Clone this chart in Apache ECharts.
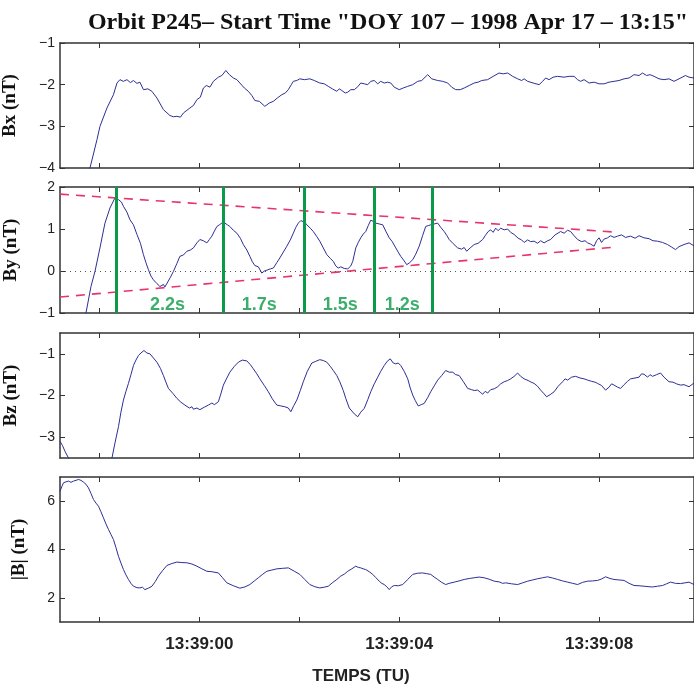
<!DOCTYPE html>
<html><head><meta charset="utf-8">
<script src="https://cdn.jsdelivr.net/npm/echarts@6/dist/echarts.min.js"></script>
<style>html,body{margin:0;padding:0;background:#fff}#c{width:694px;height:684px}</style>
</head><body><div id="c"></div>
<script>
// time in seconds relative to 13:39:00
const tMin = -2.79, tMax = 9.9;
const xTicks = [-2, 0, 2, 4, 6, 8];
const xLabelTicks = [0, 4, 8];

const bxData = [[-2.3,-4.6],[-2.19,-4.0],[-2.05,-3.32],[-1.99,-3.0],[-1.85,-2.56],[-1.72,-2.24],[-1.65,-1.96],[-1.59,-1.88],[-1.52,-1.92],[-1.45,-1.88],[-1.38,-1.95],[-1.32,-1.9],[-1.25,-1.97],[-1.19,-1.94],[-1.12,-2.12],[-1.03,-2.1],[-0.95,-2.16],[-0.85,-2.32],[-0.72,-2.6],[-0.59,-2.74],[-0.52,-2.77],[-0.45,-2.76],[-0.38,-2.78],[-0.32,-2.68],[-0.19,-2.56],[-0.12,-2.5],[-0.05,-2.36],[0.02,-2.3],[0.08,-2.08],[0.14,-2.02],[0.21,-2.06],[0.28,-1.92],[0.38,-1.82],[0.45,-1.78],[0.53,-1.66],[0.6,-1.76],[0.68,-1.84],[0.75,-1.88],[0.81,-1.96],[0.9,-2.08],[0.98,-2.16],[1.05,-2.26],[1.11,-2.38],[1.2,-2.4],[1.31,-2.52],[1.4,-2.44],[1.48,-2.4],[1.56,-2.32],[1.65,-2.24],[1.72,-2.2],[1.78,-2.12],[1.84,-2.0],[1.88,-1.92],[1.95,-1.9],[2.01,-1.86],[2.1,-1.88],[2.21,-1.86],[2.3,-1.9],[2.41,-1.96],[2.5,-1.98],[2.58,-2.04],[2.66,-2.1],[2.75,-2.16],[2.8,-2.1],[2.85,-2.14],[2.92,-2.2],[2.97,-2.18],[3.03,-2.12],[3.1,-2.12],[3.17,-2.05],[3.23,-1.96],[3.3,-1.98],[3.37,-2.0],[3.43,-1.92],[3.5,-1.9],[3.57,-1.98],[3.63,-1.92],[3.7,-1.96],[3.77,-1.94],[3.83,-1.96],[3.9,-2.06],[4.0,-2.12],[4.08,-2.08],[4.17,-2.04],[4.27,-2.0],[4.37,-1.92],[4.45,-1.9],[4.57,-1.76],[4.65,-1.86],[4.77,-1.9],[4.87,-1.92],[4.97,-1.96],[5.05,-2.06],[5.13,-2.12],[5.22,-2.12],[5.3,-2.08],[5.4,-2.02],[5.5,-1.96],[5.58,-1.94],[5.65,-1.9],[5.77,-1.88],[5.88,-1.8],[6.0,-1.72],[6.08,-1.74],[6.17,-1.72],[6.27,-1.8],[6.37,-1.86],[6.45,-1.9],[6.5,-1.86],[6.57,-1.92],[6.68,-1.96],[6.8,-2.0],[6.87,-1.92],[6.93,-1.84],[7.0,-1.88],[7.08,-1.82],[7.17,-1.8],[7.3,-1.82],[7.4,-1.8],[7.5,-1.8],[7.57,-1.88],[7.63,-1.92],[7.7,-1.88],[7.8,-1.96],[7.9,-1.94],[8.0,-1.98],[8.1,-1.98],[8.2,-1.94],[8.3,-1.92],[8.4,-1.9],[8.5,-1.86],[8.6,-1.84],[8.7,-1.76],[8.8,-1.78],[8.87,-1.72],[8.95,-1.78],[9.02,-1.76],[9.1,-1.8],[9.2,-1.86],[9.3,-1.88],[9.4,-1.86],[9.5,-1.92],[9.6,-1.86],[9.73,-1.78],[9.8,-1.82],[9.9,-1.84]];

const byData = [[-2.35,-1.6],[-2.27,-1.0],[-2.17,-0.37],[-2.09,-0.01],[-1.99,0.55],[-1.89,1.14],[-1.79,1.5],[-1.69,1.74],[-1.62,1.7],[-1.56,1.64],[-1.52,1.54],[-1.45,1.4],[-1.39,1.22],[-1.32,1.1],[-1.25,0.87],[-1.18,0.66],[-1.12,0.39],[-1.07,0.2],[-1.02,0.03],[-0.97,-0.12],[-0.92,-0.21],[-0.85,-0.3],[-0.79,-0.37],[-0.72,-0.32],[-0.69,-0.38],[-0.65,-0.35],[-0.58,-0.15],[-0.52,-0.01],[-0.45,0.18],[-0.39,0.35],[-0.32,0.38],[-0.25,0.47],[-0.18,0.5],[-0.12,0.55],[-0.05,0.67],[0.01,0.75],[0.08,0.72],[0.15,0.67],[0.2,0.75],[0.25,0.83],[0.3,0.95],[0.35,1.06],[0.4,1.1],[0.45,1.14],[0.51,1.14],[0.56,1.1],[0.61,1.06],[0.68,0.97],[0.75,0.9],[0.82,0.78],[0.88,0.63],[0.95,0.5],[1.01,0.35],[1.06,0.22],[1.11,0.13],[1.18,0.1],[1.25,-0.05],[1.3,0.0],[1.35,0.02],[1.42,0.05],[1.48,0.07],[1.55,0.2],[1.61,0.31],[1.68,0.45],[1.75,0.59],[1.82,0.74],[1.88,0.9],[1.93,1.04],[1.98,1.14],[2.03,1.2],[2.07,1.24],[2.11,1.16],[2.15,1.1],[2.22,1.02],[2.28,0.94],[2.35,0.82],[2.41,0.71],[2.48,0.55],[2.55,0.39],[2.62,0.3],[2.68,0.23],[2.73,0.12],[2.78,0.07],[2.83,0.1],[2.9,0.06],[2.97,0.05],[3.03,0.12],[3.07,0.23],[3.13,0.55],[3.18,0.68],[3.23,0.79],[3.28,0.88],[3.33,0.94],[3.38,1.08],[3.43,1.21],[3.48,1.18],[3.53,1.14],[3.6,1.12],[3.67,1.1],[3.73,0.95],[3.8,0.79],[3.86,0.7],[3.93,0.55],[3.98,0.45],[4.03,0.35],[4.1,0.24],[4.15,0.15],[4.21,0.2],[4.27,0.27],[4.33,0.4],[4.4,0.59],[4.47,0.85],[4.53,1.06],[4.58,1.08],[4.63,1.1],[4.7,1.12],[4.77,1.14],[4.83,1.04],[4.9,0.94],[4.95,0.85],[5.0,0.75],[5.08,0.65],[5.17,0.55],[5.25,0.52],[5.3,0.56],[5.35,0.47],[5.42,0.55],[5.5,0.63],[5.58,0.66],[5.67,0.75],[5.72,0.84],[5.78,0.94],[5.83,0.98],[5.88,0.92],[5.93,1.02],[5.98,0.96],[6.03,1.02],[6.1,0.98],[6.17,1.0],[6.23,0.92],[6.3,0.87],[6.38,0.78],[6.45,0.74],[6.5,0.68],[6.57,0.74],[6.63,0.7],[6.7,0.71],[6.77,0.66],[6.83,0.72],[6.9,0.67],[6.97,0.72],[7.03,0.75],[7.12,0.86],[7.23,0.94],[7.3,0.9],[7.37,0.97],[7.43,0.94],[7.5,0.84],[7.57,0.75],[7.65,0.7],[7.72,0.72],[7.77,0.67],[7.83,0.64],[7.9,0.59],[7.95,0.72],[8.0,0.79],[8.05,0.68],[8.1,0.76],[8.17,0.79],[8.23,0.84],[8.3,0.8],[8.37,0.83],[8.45,0.86],[8.53,0.8],[8.63,0.83],[8.72,0.78],[8.8,0.84],[8.9,0.79],[9.0,0.77],[9.08,0.72],[9.17,0.71],[9.27,0.68],[9.37,0.63],[9.45,0.57],[9.53,0.51],[9.6,0.58],[9.7,0.63],[9.8,0.67],[9.9,0.6]];

const bzData = [[-2.79,-3.1],[-2.74,-3.2],[-2.69,-3.34],[-2.62,-3.5],[-2.55,-3.75],[-1.8,-3.8],[-1.75,-3.5],[-1.69,-3.14],[-1.62,-2.75],[-1.57,-2.4],[-1.52,-2.11],[-1.47,-1.9],[-1.42,-1.71],[-1.37,-1.5],[-1.32,-1.28],[-1.27,-1.15],[-1.22,-1.04],[-1.17,-0.98],[-1.11,-0.92],[-1.05,-0.98],[-0.99,-1.0],[-0.92,-1.1],[-0.85,-1.2],[-0.78,-1.35],[-0.72,-1.52],[-0.67,-1.68],[-0.62,-1.83],[-0.53,-1.95],[-0.45,-2.07],[-0.37,-2.16],[-0.29,-2.23],[-0.2,-2.3],[-0.15,-2.27],[-0.12,-2.33],[-0.05,-2.3],[0.01,-2.34],[0.1,-2.28],[0.18,-2.23],[0.25,-2.18],[0.3,-2.22],[0.38,-2.15],[0.43,-1.96],[0.48,-1.75],[0.55,-1.58],[0.61,-1.44],[0.7,-1.3],[0.78,-1.2],[0.86,-1.15],[0.95,-1.17],[1.02,-1.26],[1.08,-1.36],[1.15,-1.48],[1.21,-1.6],[1.3,-1.76],[1.38,-1.91],[1.46,-2.08],[1.55,-2.23],[1.63,-2.25],[1.71,-2.27],[1.78,-2.3],[1.83,-2.39],[1.89,-2.24],[1.95,-2.11],[2.02,-1.88],[2.08,-1.67],[2.16,-1.42],[2.25,-1.22],[2.33,-1.18],[2.41,-1.14],[2.48,-1.16],[2.55,-1.2],[2.62,-1.3],[2.68,-1.4],[2.75,-1.52],[2.81,-1.67],[2.88,-1.88],[2.93,-2.07],[3.0,-2.3],[3.03,-2.33],[3.1,-2.44],[3.17,-2.51],[3.23,-2.4],[3.3,-2.31],[3.37,-2.1],[3.43,-1.91],[3.5,-1.72],[3.57,-1.56],[3.63,-1.42],[3.7,-1.28],[3.76,-1.18],[3.82,-1.12],[3.88,-1.22],[3.93,-1.24],[3.98,-1.22],[4.03,-1.28],[4.1,-1.42],[4.17,-1.6],[4.22,-1.82],[4.27,-1.99],[4.32,-2.12],[4.38,-2.25],[4.44,-2.22],[4.5,-2.19],[4.57,-2.05],[4.63,-1.91],[4.7,-1.77],[4.77,-1.63],[4.85,-1.52],[4.93,-1.4],[5.0,-1.44],[5.07,-1.44],[5.13,-1.5],[5.2,-1.52],[5.28,-1.66],[5.37,-1.83],[5.45,-1.86],[5.5,-1.88],[5.57,-1.87],[5.62,-1.92],[5.67,-1.97],[5.72,-1.9],[5.77,-1.94],[5.83,-1.86],[5.9,-1.84],[5.97,-1.79],[6.03,-1.72],[6.1,-1.67],[6.17,-1.64],[6.23,-1.6],[6.3,-1.54],[6.37,-1.46],[6.43,-1.54],[6.5,-1.6],[6.58,-1.64],[6.64,-1.68],[6.7,-1.71],[6.77,-1.78],[6.83,-1.87],[6.9,-1.96],[6.95,-2.03],[7.02,-1.98],[7.1,-1.91],[7.18,-1.78],[7.27,-1.67],[7.32,-1.6],[7.37,-1.63],[7.45,-1.56],[7.53,-1.54],[7.62,-1.58],[7.7,-1.6],[7.77,-1.63],[7.85,-1.66],[7.92,-1.68],[7.97,-1.71],[8.05,-1.76],[8.13,-1.87],[8.2,-1.8],[8.25,-1.72],[8.3,-1.75],[8.37,-1.8],[8.43,-1.83],[8.5,-1.74],[8.57,-1.66],[8.63,-1.6],[8.72,-1.58],[8.8,-1.56],[8.85,-1.48],[8.9,-1.49],[8.97,-1.56],[9.02,-1.5],[9.07,-1.54],[9.15,-1.5],[9.23,-1.46],[9.3,-1.56],[9.4,-1.67],[9.48,-1.68],[9.55,-1.72],[9.63,-1.75],[9.7,-1.74],[9.8,-1.79],[9.9,-1.7]];

const bmagData = [[-2.79,6.41],[-2.75,6.62],[-2.72,6.76],[-2.67,6.8],[-2.62,6.83],[-2.57,6.78],[-2.52,6.83],[-2.47,6.86],[-2.42,6.9],[-2.37,6.86],[-2.32,6.79],[-2.27,6.7],[-2.22,6.55],[-2.17,6.32],[-2.12,6.07],[-2.07,5.92],[-2.02,5.79],[-1.97,5.56],[-1.92,5.31],[-1.87,5.06],[-1.82,4.83],[-1.77,4.62],[-1.72,4.41],[-1.67,4.08],[-1.62,3.72],[-1.57,3.44],[-1.52,3.17],[-1.47,2.95],[-1.42,2.76],[-1.37,2.6],[-1.32,2.48],[-1.25,2.42],[-1.19,2.41],[-1.14,2.44],[-1.09,2.34],[-1.02,2.4],[-0.95,2.48],[-0.88,2.68],[-0.82,2.9],[-0.74,3.12],[-0.65,3.34],[-0.55,3.42],[-0.45,3.48],[-0.35,3.46],[-0.25,3.45],[-0.15,3.4],[-0.05,3.31],[0.05,3.2],[0.15,3.1],[0.25,3.08],[0.38,3.03],[0.46,2.84],[0.55,2.62],[0.68,2.5],[0.81,2.4],[0.91,2.45],[1.01,2.55],[1.1,2.7],[1.18,2.83],[1.27,2.98],[1.35,3.1],[1.45,3.15],[1.55,3.2],[1.66,3.22],[1.78,3.24],[1.9,3.1],[2.01,2.97],[2.11,2.76],[2.21,2.55],[2.31,2.46],[2.41,2.41],[2.5,2.44],[2.58,2.48],[2.66,2.62],[2.75,2.76],[2.83,2.9],[2.9,2.98],[2.97,3.1],[3.05,3.2],[3.13,3.31],[3.18,3.26],[3.23,3.24],[3.28,3.2],[3.33,3.17],[3.4,3.08],[3.47,2.97],[3.53,2.84],[3.6,2.69],[3.65,2.6],[3.7,2.55],[3.75,2.46],[3.8,2.34],[3.85,2.46],[3.9,2.51],[3.98,2.5],[4.07,2.55],[4.17,2.76],[4.27,2.97],[4.37,3.02],[4.47,3.03],[4.55,3.0],[4.63,2.97],[4.7,2.86],[4.77,2.76],[4.85,2.64],[4.93,2.55],[5.0,2.6],[5.1,2.65],[5.2,2.7],[5.3,2.76],[5.4,2.8],[5.5,2.83],[5.6,2.86],[5.7,2.83],[5.8,2.77],[5.9,2.69],[6.0,2.66],[6.07,2.6],[6.13,2.62],[6.25,2.58],[6.37,2.55],[6.47,2.62],[6.57,2.69],[6.67,2.74],[6.77,2.79],[6.87,2.83],[6.97,2.87],[7.07,2.82],[7.17,2.76],[7.27,2.7],[7.37,2.65],[7.47,2.6],[7.57,2.55],[7.67,2.64],[7.77,2.69],[7.87,2.7],[7.97,2.72],[8.05,2.78],[8.13,2.87],[8.22,2.8],[8.3,2.76],[8.4,2.74],[8.5,2.72],[8.6,2.6],[8.7,2.51],[8.8,2.5],[8.9,2.48],[9.0,2.46],[9.07,2.45],[9.17,2.48],[9.27,2.51],[9.35,2.58],[9.43,2.65],[9.53,2.6],[9.63,2.59],[9.72,2.62],[9.8,2.65],[9.9,2.55]];

// By annotations
const periodLines = [-1.66, 0.48, 2.1, 3.5, 4.66];
const periodLabels = ['2.2s', '1.7s', '1.5s', '1.2s'];
const periodLabelPos = [[-0.64, -0.8], [1.2, -0.8], [2.82, -0.8], [4.06, -0.8]];
const upperEnvelope = [[-2.79, 1.83], [8.28, 0.93]];
const lowerEnvelope = [[-2.79, -0.62], [8.32, 0.57]];

const panelNames = ['Bx (nT)', 'By (nT)', 'Bz (nT)', '|B| (nT)'];
const panelMin = [-4, -1, -3.5, 1];
const panelMax = [-1, 2, -0.5, 7];
const panelTicks = [[-4, -3, -2, -1], [-1, 0, 1, 2], [-3, -2, -1], [2, 4, 6]];
const panelNameGap = [40, 39, 39, 31];
const panelData = [bxData, byData, bzData, bmagData];

const grids = [
  {top: 43, height: 125}, {top: 187, height: 126}, {top: 333, height: 125}, {top: 477, height: 145}
];

const axisColor = '#333';
const lineBlue = '#2c2f96';
const green = '#0b9a47';
const minus = v => String(v).replace('-', '\u2212');

const option = {
  animation: false,
  backgroundColor: '#fff',
  title: {
    text: 'Orbit P245\u2013 Start Time "DOY 107 \u2013 1998 Apr 17 \u2013 13:15"',
    left: 383, top: 6, textAlign: 'center',
    textStyle: {fontFamily: 'Liberation Serif', fontWeight: 'bold', fontSize: 24, color: '#111'}
  },
  graphic: [{
    type: 'text', x: 361, y: 676,
    style: {text: 'TEMPS (TU)', fontFamily: 'Liberation Sans', fontWeight: 'bold', fontSize: 17, fill: '#222', align: 'center', verticalAlign: 'middle'}
  }],
  grid: grids.map(g => ({left: 60, right: 0, top: g.top, height: g.height, containLabel: false, outerBoundsMode: 'none'})),
  xAxis: [],
  yAxis: [],
  series: []
};

for (let i = 0; i < 4; i++) {
  option.xAxis.push({
    type: 'value', gridIndex: i, min: tMin, max: tMax, position: 'bottom',
    axisLine: {show: true, onZero: false, lineStyle: {color: axisColor, width: 1.5}},
    axisTick: {show: true, inside: true, length: 5, customValues: xTicks, lineStyle: {color: axisColor, width: 1}},
    splitLine: {show: false},
    axisLabel: {
      show: i === 3, customValues: xLabelTicks, margin: 14,
      fontFamily: 'Liberation Sans', fontWeight: 'bold', fontSize: 17, color: '#222',
      formatter: v => '13:39:' + String(v).padStart(2, '0')
    }
  });
}
for (let i = 0; i < 4; i++) {
  option.xAxis.push({
    type: 'value', gridIndex: i, min: tMin, max: tMax, position: 'top',
    axisLine: {show: true, onZero: false, lineStyle: {color: axisColor, width: 1.5}},
    axisTick: {show: true, inside: true, length: 5, customValues: xTicks, lineStyle: {color: axisColor, width: 1}},
    axisLabel: {show: false}, splitLine: {show: false}
  });
}
for (let i = 0; i < 4; i++) {
  option.yAxis.push({
    type: 'value', gridIndex: i, min: panelMin[i], max: panelMax[i], position: 'left',
    name: panelNames[i], nameLocation: 'middle', nameGap: panelNameGap[i],
    nameTextStyle: {fontFamily: 'Liberation Serif', fontWeight: 'bold', fontSize: 19, color: '#111'},
    axisLine: {show: true, onZero: false, lineStyle: {color: axisColor, width: 1.5}},
    axisTick: {show: true, inside: true, length: 5, customValues: panelTicks[i], lineStyle: {color: axisColor, width: 1}},
    axisLabel: {show: true, customValues: panelTicks[i], margin: 5, fontFamily: 'Liberation Sans', fontSize: 14, color: '#222', formatter: minus},
    splitLine: {show: false}
  });
}
for (let i = 0; i < 4; i++) {
  option.yAxis.push({
    type: 'value', gridIndex: i, min: panelMin[i], max: panelMax[i], position: 'right',
    axisLine: {show: true, onZero: false, lineStyle: {color: axisColor, width: 1.5}},
    axisTick: {show: true, inside: true, length: 5, customValues: panelTicks[i], lineStyle: {color: axisColor, width: 1}},
    axisLabel: {show: false}, splitLine: {show: false}
  });
}

for (let i = 0; i < 4; i++) {
  const s = {
    type: 'line', xAxisIndex: i, yAxisIndex: i, data: panelData[i],
    showSymbol: false, clip: true, z: 3,
    lineStyle: {color: lineBlue, width: 1}
  };
  if (i === 1) {
    s.markLine = {
      silent: true, symbol: 'none', animation: false,
      label: {show: false},
      data: [{yAxis: 0, lineStyle: {color: '#555', type: [1, 4], width: 1}}]
        .concat(periodLines.map(t => ({xAxis: t, lineStyle: {color: green, type: 'solid', width: 3}})))
    };
  }
  option.series.push(s);
}
// envelopes
[upperEnvelope, lowerEnvelope].forEach(env => {
  option.series.push({
    type: 'line', xAxisIndex: 1, yAxisIndex: 1, data: env, showSymbol: false, z: 4,
    lineStyle: {color: '#e8336e', width: 1.6, type: [9, 7]}
  });
});
// period labels
option.series.push({
  type: 'scatter', xAxisIndex: 1, yAxisIndex: 1, symbolSize: 0, z: 5,
  data: periodLabelPos.map((p, k) => ({value: p, name: periodLabels[k]})),
  label: {show: true, position: 'inside', formatter: p => p.name,
    fontFamily: 'Liberation Sans', fontWeight: 'bold', fontSize: 18, color: green}
});

const chart = echarts.init(document.getElementById('c'), null, {renderer: 'canvas'});
chart.setOption(option);
</script>
</body></html>
